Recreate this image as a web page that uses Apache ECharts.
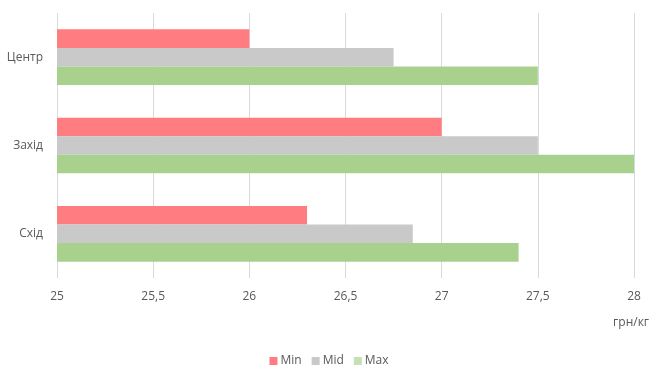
<!DOCTYPE html>
<html><head><meta charset="utf-8">
<script src="https://cdn.jsdelivr.net/npm/echarts@6/dist/echarts.min.js"></script>
<style>html,body{margin:0;padding:0;background:#fff}#c{width:658px;height:381px}</style>
</head><body><div id="c"></div>
<script>
const categories = ['Центр', 'Захід', 'Схід'];
const minValues = [26, 27, 26.3];
const midValues = [26.75, 27.5, 26.85];
const maxValues = [27.5, 28, 27.4];
const seriesNames = ['Min', 'Mid', 'Max'];
const axisUnit = 'грн/кг';

const font = '"Open Sans", "Noto Sans", sans-serif';
const chart = echarts.init(document.getElementById('c'));
const colors = ['#FF7C80', '#C9C9C9', '#A9D18E'];
chart.setOption({
  animation: false,
  textStyle: { fontFamily: font },
  grid: { left: 57, right: 24, top: 13, bottom: 103, containLabel: false },
  legend: {
    bottom: 9, left: 'center', itemWidth: 8, itemHeight: 8, itemGap: 10,
    icon: 'rect',
    textStyle: { color: '#595959', fontSize: 12, fontFamily: font, padding: [0, 0, 0, -2] },
    data: [
      { name: seriesNames[0], itemStyle: { color: '#FF7C80' } },
      { name: seriesNames[1], itemStyle: { color: '#C9C9C9' } },
      { name: seriesNames[2], itemStyle: { color: '#C5E0B4' } }
    ]
  },
  xAxis: {
    type: 'value', min: 25, max: 28, interval: 0.5,
    name: axisUnit, nameLocation: 'end',
    nameTextStyle: { color: '#595959', fontSize: 12, align: 'right', verticalAlign: 'top', padding: [39, 0, 0, 0] },
    nameGap: 15,
    axisLine: { show: false }, axisTick: { show: false },
    splitLine: { lineStyle: { color: '#D9D9D9', width: 1 } },
    axisLabel: { color: '#595959', fontSize: 12, margin: 13,
      formatter: v => String(v).replace('.', ',') }
  },
  yAxis: {
    type: 'category', data: categories, inverse: true,
    axisLine: { show: false }, axisTick: { show: false },
    axisLabel: { color: '#595959', fontSize: 12, margin: 14 }
  },
  series: [
    { name: seriesNames[0], type: 'bar', data: minValues, itemStyle: { color: colors[0] }, barGap: '0%', barCategoryGap: '37%' },
    { name: seriesNames[1], type: 'bar', data: midValues, itemStyle: { color: colors[1] }, barGap: '0%', barCategoryGap: '37%' },
    { name: seriesNames[2], type: 'bar', data: maxValues, itemStyle: { color: colors[2] }, barGap: '0%', barCategoryGap: '37%' }
  ]
});
</script></body></html>
